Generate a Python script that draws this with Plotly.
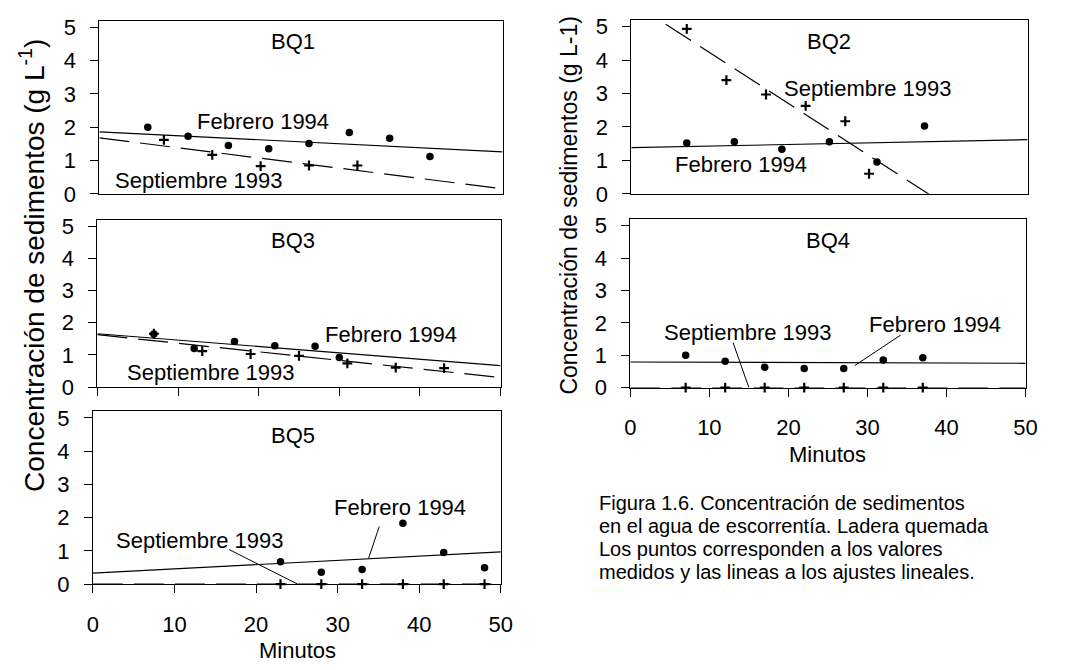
import plotly.graph_objects as go

# ---------------- data ----------------
panels = ["BQ1", "BQ2", "BQ3", "BQ4", "BQ5"]

bq1_feb_x = [6, 11, 16, 21, 26, 31, 36, 41]
bq1_feb_y = [2.00, 1.73, 1.45, 1.35, 1.51, 1.84, 1.67, 1.12]
bq1_sep_x = [8, 14, 20, 26, 32]
bq1_sep_y = [1.62, 1.17, 0.83, 0.85, 0.85]

bq2_feb_x = [7, 13, 19, 25, 31, 37]
bq2_feb_y = [1.52, 1.56, 1.33, 1.56, 0.95, 2.03]
bq2_sep_x = [7, 12, 17, 22, 27, 30]
bq2_sep_y = [4.93, 3.40, 2.97, 2.63, 2.17, 0.60]

bq3_feb_x = [7, 12, 17, 22, 27, 30]
bq3_feb_y = [1.65, 1.20, 1.42, 1.29, 1.27, 0.92]
bq3_sep_x = [7, 13, 19, 25, 31, 37, 43]
bq3_sep_y = [1.66, 1.12, 1.03, 0.97, 0.74, 0.61, 0.59]

bq4_feb_x = [7, 12, 17, 22, 27, 32, 37]
bq4_feb_y = [1.00, 0.81, 0.63, 0.59, 0.59, 0.85, 0.92]
bq4_sep_x = [7, 12, 17, 22, 27, 32, 37]
bq4_sep_y = [0, 0, 0, 0, 0, 0, 0]

bq5_feb_x = [23, 28, 33, 38, 43, 48]
bq5_feb_y = [0.67, 0.36, 0.44, 1.83, 0.95, 0.49]
bq5_sep_x = [23, 28, 33, 38, 43, 48]
bq5_sep_y = [0, 0, 0, 0, 0, 0]

# linear fits: x end points and fitted y at those x
fit_x = [0, 50]
bq1_feb_fit = [1.86, 1.26]
bq1_sep_fit = [1.68, 0.15]
bq2_feb_fit = [1.38, 1.62]
bq2_sep_fit = [5.735, -1.915]
bq3_feb_fit = [1.66, 0.67]
bq3_sep_fit = [1.63, 0.30]
bq4_feb_fit = [0.79, 0.75]
bq4_sep_fit = [0.0, 0.0]
bq5_feb_fit = [0.33, 0.97]
bq5_sep_fit = [0.0, 0.0]

x_ticks = [0, 10, 20, 30, 40, 50]
y_ticks = [0, 1, 2, 3, 4, 5]

feb_label = "Febrero 1994"
sep_label = "Septiembre 1993"
y_title_left = "Concentración de sedimentos (g L<sup>-1</sup>)"
y_title_right = "Concentración de sedimentos (g L-1)"
x_title = "Minutos"
caption_lines = [
    "Figura 1.6. Concentración de sedimentos",
    "en el agua de escorrentía. Ladera quemada",
    "Los puntos corresponden a los valores",
    "medidos y las lineas a los ajustes lineales.",
]

# ---------------- layout constants ----------------
W, H = 1070, 670
FONT = "Liberation Sans, Arial, sans-serif"
FS = 22

def fx(px):
    return px / W

def fy(py):
    return 1 - py / H

# pixel boxes: (left, right, top, bottom)
boxes = {
    "BQ1": (95, 505, 15, 193.3),
    "BQ2": (636, 1039, 14.3, 193.3),
    "BQ3": (93, 503, 220, 392.3),
    "BQ4": (635, 1037, 219.4, 392.7),
    "BQ5": (88.3, 503.3, 417, 595),
}
axis_id = {"BQ1": "", "BQ2": "2", "BQ3": "3", "BQ4": "4", "BQ5": "5"}
x_mode = {"BQ1": "none", "BQ2": "none", "BQ3": "ticks", "BQ4": "labels", "BQ5": "labels"}

series = {
    "BQ1": (bq1_feb_x, bq1_feb_y, bq1_sep_x, bq1_sep_y, bq1_feb_fit, bq1_sep_fit),
    "BQ2": (bq2_feb_x, bq2_feb_y, bq2_sep_x, bq2_sep_y, bq2_feb_fit, bq2_sep_fit),
    "BQ3": (bq3_feb_x, bq3_feb_y, bq3_sep_x, bq3_sep_y, bq3_feb_fit, bq3_sep_fit),
    "BQ4": (bq4_feb_x, bq4_feb_y, bq4_sep_x, bq4_sep_y, bq4_feb_fit, bq4_sep_fit),
    "BQ5": (bq5_feb_x, bq5_feb_y, bq5_sep_x, bq5_sep_y, bq5_feb_fit, bq5_sep_fit),
}

# annotation positions in data coords: (panel title, feb label, sep label)
label_pos = {
    "BQ1": ((24, 4.56), (20.3, 2.18), (12.4, 0.39)),
    "BQ2": ((24.9, 4.54), (13.9, 0.87), (29.9, 3.14)),
    "BQ3": ((24.2, 4.55), (36.4, 1.63), (14.1, 0.47)),
    "BQ4": ((25, 4.55), (38.5, 1.94), (14.9, 1.69)),
    "BQ5": ((24.5, 4.48), (37.6, 2.31), (13.1, 1.32)),
}
# leader lines (x0, y0, x1, y1) in data coords
leaders = {
    "BQ4": [(13.0, 1.39, 15.0, 0.0), (34.2, 1.62, 28.4, 0.68)],
    "BQ5": [(16.7, 1.04, 25.1, 0.0), (35.1, 1.73, 33.8, 0.78)],
}

fig = go.Figure()
layout = dict(
    width=W, height=H,
    margin=dict(l=0, r=0, t=0, b=0),
    paper_bgcolor="white", plot_bgcolor="white",
    showlegend=False,
    font=dict(family=FONT, size=FS, color="black"),
)
annotations = []
shapes = []

for p in panels:
    aid = axis_id[p]
    xa, ya = "x" + aid, "y" + aid
    l, r, t, b = boxes[p]
    fxv, fyv, sxv, syv, ffit, sfit = series[p]

    fig.add_trace(go.Scatter(x=fit_x, y=ffit, mode="lines", xaxis=xa, yaxis=ya,
                             line=dict(color="black", width=1.2), hoverinfo="skip"))
    fig.add_trace(go.Scatter(x=fit_x, y=sfit, mode="lines", xaxis=xa, yaxis=ya,
                             line=dict(color="black", width=1.2, dash="30px,11px"),
                             hoverinfo="skip"))
    fig.add_trace(go.Scatter(x=fxv, y=fyv, mode="markers", xaxis=xa, yaxis=ya,
                             cliponaxis=False,
                             marker=dict(symbol="circle", size=7.5, color="black")))
    fig.add_trace(go.Scatter(x=sxv, y=syv, mode="markers", xaxis=xa, yaxis=ya,
                             cliponaxis=False,
                             marker=dict(symbol="cross-thin", size=7,
                                         line=dict(color="black", width=2.2))))

    mode = x_mode[p]
    layout["xaxis" + aid] = dict(
        domain=[fx(l), fx(r)], anchor=ya, range=[0, 50],
        tickvals=x_ticks, showgrid=False, zeroline=False,
        showline=True, linecolor="black", linewidth=1, mirror=True,
        ticks="outside" if mode != "none" else "", ticklen=8, tickcolor="black",
        showticklabels=(mode == "labels"), ticklabelstandoff=12,
        tickfont=dict(family=FONT, size=FS, color="black"),
    )
    layout["yaxis" + aid] = dict(
        domain=[fy(b), fy(t)], anchor=xa, range=[0, 5.2],
        tickvals=y_ticks, showgrid=False, zeroline=False,
        showline=True, linecolor="black", linewidth=1, mirror=True,
        ticks="outside", ticklen=8, tickcolor="black", ticklabelstandoff=10,
        tickfont=dict(family=FONT, size=FS, color="black"),
    )

    (tx, ty), (fbx, fby), (spx, spy) = label_pos[p]
    for txt, (ax_, ay_) in ((p, (tx, ty)), (feb_label, (fbx, fby)), (sep_label, (spx, spy))):
        annotations.append(dict(x=ax_, y=ay_, xref=xa, yref=ya, text=txt,
                                showarrow=False, xanchor="center", yanchor="middle",
                                font=dict(family=FONT, size=FS, color="black")))
    for (x0, y0, x1, y1) in leaders.get(p, []):
        shapes.append(dict(type="line", xref=xa, yref=ya, x0=x0, y0=y0, x1=x1, y1=y1,
                           line=dict(color="black", width=1)))

# axis titles
annotations.append(dict(x=fx(27), y=fy(267), xref="paper", yref="paper", text=y_title_left,
                        textangle=-90, showarrow=False, xanchor="center", yanchor="middle",
                        font=dict(family=FONT, size=28, color="black")))
annotations.append(dict(x=fx(573), y=fy(205), xref="paper", yref="paper", text=y_title_right,
                        textangle=-90, showarrow=False, xanchor="center", yanchor="middle",
                        font=dict(family=FONT, size=23, color="black")))
annotations.append(dict(x=fx(296), y=fy(663), xref="paper", yref="paper", text=x_title,
                        showarrow=False, xanchor="center", yanchor="middle",
                        font=dict(family=FONT, size=FS, color="black")))
annotations.append(dict(x=fx(836), y=fy(462), xref="paper", yref="paper", text=x_title,
                        showarrow=False, xanchor="center", yanchor="middle",
                        font=dict(family=FONT, size=FS, color="black")))

cap_y = [512, 535.5, 559, 582.5]
for line, py in zip(caption_lines, cap_y):
    annotations.append(dict(x=fx(601), y=fy(py), xref="paper", yref="paper", text=line,
                            showarrow=False, xanchor="left", yanchor="middle",
                            font=dict(family=FONT, size=20, color="black")))

layout["annotations"] = annotations
layout["shapes"] = shapes
fig.update_layout(**layout)
fig.write_html("out.html")
